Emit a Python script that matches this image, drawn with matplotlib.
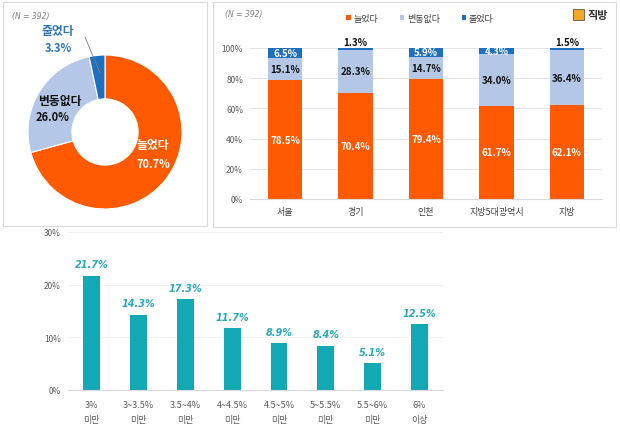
import matplotlib
matplotlib.use("Agg")
import matplotlib.pyplot as plt
from matplotlib.patches import Rectangle, FancyBboxPatch
import numpy as np

plt.rcParams['font.family'] = ['Noto Sans CJK KR', 'DejaVu Sans']

# ---- data ----
pie_labels = ['늘었다', '변동없다', '줄었다']
pie_values = [70.7, 26.0, 3.3]

regions = ['서울', '경기', '인천', '지방5대광역시', '지방']
inc = [78.5, 70.4, 79.4, 61.7, 62.1]
same = [15.1, 28.3, 14.7, 34.0, 36.4]
dec = [6.5, 1.3, 5.9, 4.3, 1.5]

rate_labels = ['3%\n미만', '3~3.5%\n미만', '3.5~4%\n미만', '4~4.5%\n미만',
               '4.5~5%\n미만', '5~5.5%\n미만', '5.5~6%\n미만', '6%\n이상']
rate_values = [21.7, 14.3, 17.3, 11.7, 8.9, 8.4, 5.1, 12.5]

ORANGE = '#FF5A00'
LBLUE = '#B4C7E7'
DBLUE = '#1F6FBF'
TEAL = '#12A9B5'
TEAL_TXT = '#2BA9B6'
TICK = '#595959'

W, H = 620, 431
fig = plt.figure(figsize=(W / 100, H / 100), dpi=100)

def fx(px):
    return px / W

def fy(py):
    return 1 - py / H

# panel boxes
for (x0, y0, x1, y1) in [(3, 3, 207, 227), (213, 3, 616, 228)]:
    fig.patches.append(Rectangle((fx(x0), fy(y1)), fx(x1 - x0), (y1 - y0) / H,
                                 transform=fig.transFigure, fill=False,
                                 edgecolor='#D9D9D9', linewidth=0.8))

# ---- donut ----
cx, cy, R, box = 105, 133, 77, 82
axp = fig.add_axes([fx(cx - box), fy(cy + box), 2 * box / W, 2 * box / H])
wedges, _ = axp.pie(pie_values, colors=[ORANGE, LBLUE, DBLUE], startangle=90,
                    counterclock=False, radius=1,
                    wedgeprops=dict(width=0.57, edgecolor='white', linewidth=0.8))
lim = box / R
axp.set_xlim(-lim, lim)
axp.set_ylim(-lim, lim)
axp.set_aspect('equal')
axp.axis('off')

fig.text(fx(12), fy(16), '(N = 392)', fontsize=5.5, style='italic', color='#7F7F7F',
         va='center', ha='left', family='DejaVu Sans')
fig.text(fx(58), fy(31), '줄었다', fontsize=8.5, fontweight='bold', color='#2E75B6',
         ha='center', va='center')
fig.text(fx(58), fy(48), '3.3%', fontsize=8, fontweight='bold', color='#2E75B6',
         ha='center', va='center')
fig.lines.append(plt.Line2D([fx(85), fx(100)], [fy(38), fy(74)], transform=fig.transFigure,
                            color='#7F7F7F', linewidth=0.6))
fig.text(fx(60), fy(101), '변동없다', fontsize=8.5, fontweight='bold', color='#111111',
         ha='center', va='center')
fig.text(fx(53), fy(118), '26.0%', fontsize=8, fontweight='bold', color='#111111',
         ha='center', va='center')
fig.text(fx(153), fy(146), '늘었다', fontsize=8.5, fontweight='bold', color='white',
         ha='center', va='center')
fig.text(fx(153), fy(164), '70.7%', fontsize=8, fontweight='bold', color='white',
         ha='center', va='center')

# ---- stacked bars ----
axs = fig.add_axes([fx(250), fy(200), fx(602 - 250), (200 - 49) / H])
x = np.arange(len(regions))
bw = 0.49
b1 = axs.bar(x, inc, bw, color=ORANGE, label='늘었다', zorder=2)
b2 = axs.bar(x, same, bw, bottom=inc, color=LBLUE, label='변동없다', zorder=2)
bot3 = [a + b for a, b in zip(inc, same)]
b3 = axs.bar(x, dec, bw, bottom=bot3, color=DBLUE, label='줄었다', zorder=2)
axs.set_xlim(-0.5, len(regions) - 0.5)
axs.set_ylim(0, 100)
axs.set_yticks(range(0, 101, 20))
axs.set_yticklabels([f'{v}%' for v in range(0, 101, 20)], fontsize=6, color=TICK)
axs.set_xticks(x)
axs.set_xticklabels(regions, fontsize=6.5, color='#404040')
axs.tick_params(length=0, pad=5)
axs.tick_params(axis='x', pad=6)
axs.grid(axis='y', color='#E5E5E5', linewidth=0.7, zorder=0)
for s in axs.spines.values():
    s.set_visible(False)
axs.spines['bottom'].set_visible(True)
axs.spines['bottom'].set_color('#D9D9D9')
for i in range(len(regions)):
    axs.text(x[i], inc[i] / 2, f'{inc[i]:.1f}%', ha='center', va='center',
             color='white', fontsize=7, fontweight='bold', zorder=3)
    axs.text(x[i], inc[i] + same[i] / 2, f'{same[i]:.1f}%', ha='center', va='center',
             color='#111111', fontsize=7, fontweight='bold', zorder=3)
    if dec[i] >= 3:
        axs.text(x[i], bot3[i] + dec[i] / 2, f'{dec[i]:.1f}%', ha='center', va='center',
                 color='white', fontsize=7, fontweight='bold', zorder=3)
    else:
        axs.text(x[i], 100 + 0.5, f'{dec[i]:.1f}%', ha='center', va='bottom',
                 color='#111111', fontsize=7, fontweight='bold', zorder=3)

fig.text(fx(225), fy(15), '(N = 392)', fontsize=5.5, style='italic', color='#7F7F7F',
         va='center', ha='left', family='DejaVu Sans')
leg = fig.legend(handles=[b1, b2, b3], labels=pie_labels, loc='center',
                 bbox_to_anchor=(fx(420), fy(19)), ncol=3, frameon=False,
                 fontsize=6.5, handlelength=0.5, handleheight=0.5, handletextpad=0.3,
                 columnspacing=2.4, labelcolor='#404040')
# logo
fig.patches.append(FancyBboxPatch((fx(574), fy(21)), fx(10), 10 / H,
                                  boxstyle='round,pad=0.001', transform=fig.transFigure,
                                  facecolor='#F5A623', edgecolor='#555555', linewidth=0.6))
fig.text(fx(587), fy(16), '직방', fontsize=8, fontweight='bold', color='#333333',
         ha='left', va='center')

# ---- bottom bars ----
axb = fig.add_axes([fx(68), fy(391), fx(443 - 68), (391 - 233) / H])
xb = np.arange(len(rate_values))
axb.bar(xb, rate_values, 0.36, color=TEAL, zorder=2)
axb.set_xlim(-0.5, len(rate_values) - 0.5)
axb.set_ylim(0, 30)
axb.set_yticks([0, 10, 20, 30])
axb.set_yticklabels(['0%', '10%', '20%', '30%'], fontsize=6, color=TICK)
axb.set_xticks(xb)
axb.set_xticklabels(rate_labels, fontsize=6.5, color=TICK, linespacing=1.9)
axb.tick_params(length=0, pad=5)
axb.tick_params(axis='x', pad=7)
axb.grid(axis='y', color='#F0F0F0', linewidth=0.7, zorder=0)
for s in axb.spines.values():
    s.set_visible(False)
axb.spines['bottom'].set_visible(True)
axb.spines['bottom'].set_color('#D9D9D9')
for i, v in enumerate(rate_values):
    axb.text(xb[i], v + 1.2, f'{v:.1f}%', ha='center', va='bottom', color=TEAL_TXT,
             fontsize=7, fontweight='bold', style='italic', zorder=3,
             family='DejaVu Sans')

fig.savefig('out.png', dpi=100, facecolor='white')
